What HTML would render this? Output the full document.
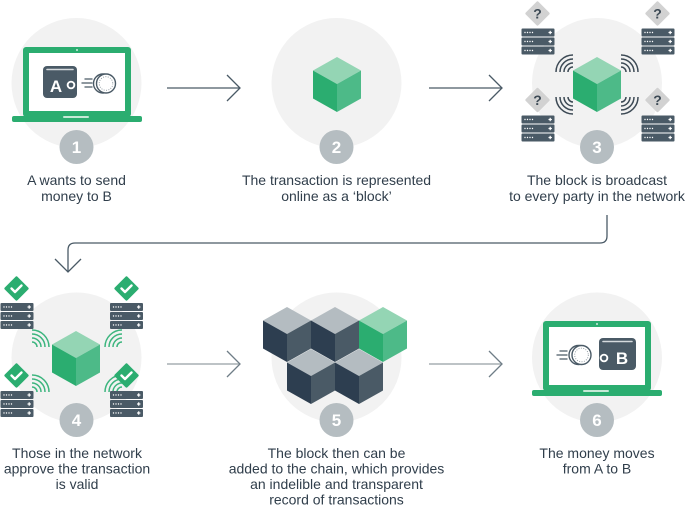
<!DOCTYPE html>
<html><head><meta charset="utf-8"><style>
html,body{margin:0;padding:0;background:#fff;}
svg{display:block;}
text{font-family:"Liberation Sans",Arial,sans-serif;}
.t{font-size:14px;fill:#303e4b;text-anchor:middle;}
.n{font-size:17px;font-weight:bold;fill:#fff;text-anchor:middle;}
</style></head><body>
<svg width="685" height="510" viewBox="0 0 685 510" xmlns="http://www.w3.org/2000/svg">
<defs>
  <g id="cg">
    <polygon points="0,0 24,13.5 0,27 -24,13.5" fill="#94d5b4"/>
    <polygon points="-24,13.5 0,27 0,55 -24,41.5" fill="#2bad70"/>
    <polygon points="0,27 24,13.5 24,41.5 0,55" fill="#4dba88"/>
  </g>
  <g id="cd">
    <polygon points="0,0 24,13.5 0,27 -24,13.5" fill="#b4bcc1"/>
    <polygon points="-24,13.5 0,27 0,55 -24,41.5" fill="#2d3e50"/>
    <polygon points="0,27 24,13.5 24,41.5 0,55" fill="#4a5a66"/>
  </g>
  <g id="row">
    <rect x="0" y="0" width="33" height="8" rx="1" fill="#4a5a66"/>
    <circle cx="3.5" cy="4" r="0.7" fill="#fff"/><circle cx="6" cy="4" r="0.7" fill="#fff"/>
    <circle cx="8.5" cy="4" r="0.7" fill="#fff"/><circle cx="11" cy="4" r="0.7" fill="#fff"/>
    <rect x="27" y="3.4" width="3.4" height="1.2" fill="#fff"/><rect x="28.1" y="2.3" width="1.2" height="3.4" fill="#fff"/>
  </g>
  <g id="srv">
    <use href="#row"/><use href="#row" y="9"/><use href="#row" y="18"/>
  </g>
  <g id="lap">
    <rect x="23" y="47" width="108" height="70" rx="3" fill="#2bad70"/>
    <rect x="29" y="53" width="96" height="58" fill="#fff"/>
    <circle cx="77" cy="50" r="0.9" fill="#fff"/>
    <rect x="12" y="116" width="130" height="6" rx="2" fill="#2bad70"/>
    <rect x="63" y="116" width="26" height="2" rx="1" fill="#c6e9d6"/>
  </g>
</defs>

<!-- background circles -->
<circle cx="76.5" cy="83" r="65" fill="#f2f2f2"/>
<circle cx="336.5" cy="83" r="65" fill="#f2f2f2"/>
<circle cx="597" cy="83" r="65" fill="#f2f2f2"/>
<circle cx="76.5" cy="357.5" r="65" fill="#f2f2f2"/>
<circle cx="336.5" cy="357.5" r="65" fill="#f2f2f2"/>
<circle cx="597" cy="357.5" r="65" fill="#f2f2f2"/>

<!-- arrows row 1 -->
<g fill="none" stroke="#4a5a66" stroke-width="1.3">
  <line x1="167" y1="88" x2="240" y2="88"/>
  <polyline points="227,75 240,88 227,101"/>
  <line x1="429" y1="88" x2="502" y2="88"/>
  <polyline points="489,75 502,88 489,101"/>
  <path d="M607,215 V236 Q607,243 600,243 H75 Q68,243 68,250 V272"/>
  <polyline points="55,259 68,272 81,259"/>
</g>
<!-- arrows row 2 -->
<g fill="none" stroke-width="1.6">
  <line x1="167" y1="364" x2="239" y2="364" stroke="#a7afb4"/>
  <polyline points="227,351 240,364 227,377" stroke="#6f7d87" stroke-width="1.3"/>
  <line x1="429" y1="364" x2="501" y2="364" stroke="#a7afb4"/>
  <polyline points="489,351 502,364 489,377" stroke="#6f7d87" stroke-width="1.3"/>
</g>

<!-- Step 1 laptop -->
<use href="#lap"/>
<rect x="43" y="66" width="34" height="32" rx="4" fill="#4a5a66"/>
<line x1="47" y1="69.5" x2="73" y2="69.5" stroke="#d5dadd" stroke-width="1.6" stroke-linecap="round"/>
<text x="56" y="92" style="font-size:17px;font-weight:bold;fill:#fff;text-anchor:middle">A</text>
<circle cx="71" cy="85" r="4.3" fill="#fff"/>
<circle cx="71" cy="85" r="2.4" fill="#4a5a66"/>
<g stroke="#4a5a66" stroke-width="1.3" stroke-linecap="round">
  <line x1="85" y1="79" x2="92" y2="79"/><line x1="82" y1="83" x2="92" y2="83"/><line x1="85" y1="87" x2="92" y2="87"/>
</g>
<circle cx="103" cy="83.5" r="9.5" fill="#fff" stroke="#4a5a66" stroke-width="1.4"/>
<circle cx="106" cy="83.5" r="9.5" fill="#fff" stroke="#4a5a66" stroke-width="1.4"/>
<circle cx="106" cy="83.5" r="6.8" fill="none" stroke="#8a959c" stroke-width="0.9" stroke-dasharray="1 1.4"/>

<!-- Step 2 cube -->
<use href="#cg" x="337" y="57"/>

<!-- Step 3 -->
<g fill="none" stroke="#3d4a55" stroke-width="1.5">
  <path d="M568,72 A5,5 0 0 1 573,67 M564,72 A9,9 0 0 1 573,63 M560,72 A13,13 0 0 1 573,59 M556,72 A17,17 0 0 1 573,55"/>
  <path d="M621,67 A5,5 0 0 1 626,72 M621,63 A9,9 0 0 1 630,72 M621,59 A13,13 0 0 1 634,72 M621,55 A17,17 0 0 1 638,72"/>
  <path d="M573,102 A5,5 0 0 1 568,97 M573,106 A9,9 0 0 1 564,97 M573,110 A13,13 0 0 1 560,97 M573,114 A17,17 0 0 1 556,97"/>
  <path d="M626,97 A5,5 0 0 1 621,102 M630,97 A9,9 0 0 1 621,106 M634,97 A13,13 0 0 1 621,110 M638,97 A17,17 0 0 1 621,114"/>
</g>
<use href="#cg" x="597" y="57"/>
<use href="#srv" x="521.5" y="28.5"/>
<use href="#srv" x="641.5" y="28.5"/>
<use href="#srv" x="521.5" y="115.5"/>
<use href="#srv" x="641.5" y="115.5"/>
<g fill="#d2d2d2">
  <rect x="-9" y="-9" width="18" height="18" rx="1.5" transform="translate(537.5,13.5) rotate(45)"/>
  <rect x="-9" y="-9" width="18" height="18" rx="1.5" transform="translate(657.5,13.5) rotate(45)"/>
  <rect x="-9" y="-9" width="18" height="18" rx="1.5" transform="translate(537.5,100) rotate(45)"/>
  <rect x="-9" y="-9" width="18" height="18" rx="1.5" transform="translate(657.5,100) rotate(45)"/>
</g>
<g style="font-size:14px;font-weight:bold;fill:#3d4a55;text-anchor:middle">
  <text x="537.5" y="18.5">?</text><text x="657.5" y="18.5">?</text>
  <text x="537.5" y="105">?</text><text x="657.5" y="105">?</text>
</g>

<!-- Step 4 -->
<g fill="none" stroke="#3cb57e" stroke-width="1.5">
  <path d="M32,342 A5,5 0 0 1 37,347 M32,338 A9,9 0 0 1 41,347 M32,334 A13,13 0 0 1 45,347 M32,330 A17,17 0 0 1 49,347"/>
  <path d="M117,347 A5,5 0 0 1 122,342 M113,347 A9,9 0 0 1 122,338 M109,347 A13,13 0 0 1 122,334 M105,347 A17,17 0 0 1 122,330"/>
  <path d="M32,387 A5,5 0 0 1 37,392 M32,383 A9,9 0 0 1 41,392 M32,379 A13,13 0 0 1 45,392 M32,375 A17,17 0 0 1 49,392"/>
  <path d="M117,392 A5,5 0 0 1 122,387 M113,392 A9,9 0 0 1 122,383 M109,392 A13,13 0 0 1 122,379 M105,392 A17,17 0 0 1 122,375"/>
</g>
<use href="#cg" x="76" y="331"/>
<use href="#srv" x="0.5" y="303"/>
<use href="#srv" x="110" y="303"/>
<use href="#srv" x="0.5" y="391"/>
<use href="#srv" x="110" y="391"/>
<g fill="#2bad70">
  <rect x="-9" y="-9" width="18" height="18" rx="1.5" transform="translate(16.5,288.5) rotate(45)"/>
  <rect x="-9" y="-9" width="18" height="18" rx="1.5" transform="translate(126.5,288.5) rotate(45)"/>
  <rect x="-9" y="-9" width="18" height="18" rx="1.5" transform="translate(16.5,375.5) rotate(45)"/>
  <rect x="-9" y="-9" width="18" height="18" rx="1.5" transform="translate(126.5,375.5) rotate(45)"/>
</g>
<g fill="none" stroke="#fff" stroke-width="2.4" stroke-linecap="round" stroke-linejoin="round">
  <polyline points="11.5,288.5 15,292 21.5,285.5"/>
  <polyline points="121.5,288.5 125,292 131.5,285.5"/>
  <polyline points="11.5,375.5 15,379 21.5,372.5"/>
  <polyline points="121.5,375.5 125,379 131.5,372.5"/>
</g>

<!-- Step 5 cubes -->
<use href="#cd" x="287" y="307"/>
<use href="#cd" x="335" y="307"/>
<use href="#cg" x="383" y="307"/>
<use href="#cd" x="311" y="349"/>
<use href="#cd" x="359" y="349"/>

<!-- Step 6 laptop -->
<use href="#lap" x="520" y="274"/>
<g stroke="#4a5a66" stroke-width="1.3" stroke-linecap="round">
  <line x1="560" y1="351" x2="567" y2="351"/><line x1="557" y1="355" x2="567" y2="355"/><line x1="560" y1="359" x2="567" y2="359"/>
</g>
<circle cx="578.5" cy="355" r="9.5" fill="#fff" stroke="#4a5a66" stroke-width="1.4"/>
<circle cx="581.5" cy="355" r="9.5" fill="#fff" stroke="#4a5a66" stroke-width="1.4"/>
<circle cx="581.5" cy="355" r="6.8" fill="none" stroke="#8a959c" stroke-width="0.9" stroke-dasharray="1 1.4"/>
<rect x="599" y="338" width="37" height="32" rx="4" fill="#4a5a66"/>
<line x1="603" y1="341.5" x2="632" y2="341.5" stroke="#d5dadd" stroke-width="1.6" stroke-linecap="round"/>
<circle cx="604" cy="358" r="4.3" fill="#fff"/>
<circle cx="604" cy="358" r="2.4" fill="#4a5a66"/>
<text x="622" y="364" style="font-size:17px;font-weight:bold;fill:#fff;text-anchor:middle">B</text>

<!-- badges -->
<g fill="#b5bdc1">
  <circle cx="76.5" cy="147" r="17"/><circle cx="336.5" cy="147" r="17"/><circle cx="597" cy="147" r="17"/>
  <circle cx="76.5" cy="420" r="17"/><circle cx="336.5" cy="420" r="17"/><circle cx="597" cy="420" r="17"/>
</g>
<text class="n" x="76.5" y="153">1</text>
<text class="n" x="336.5" y="153">2</text>
<text class="n" x="597" y="153">3</text>
<text class="n" x="76.5" y="426">4</text>
<text class="n" x="336.5" y="426">5</text>
<text class="n" x="597" y="426">6</text>

<!-- labels -->
<text class="t" x="76.5" y="185">A wants to send</text>
<text class="t" x="76.5" y="201">money to B</text>
<text class="t" x="336.5" y="185">The transaction is represented</text>
<text class="t" x="336.5" y="201">online as a ‘block’</text>
<text class="t" x="597" y="185">The block is broadcast</text>
<text class="t" x="597" y="201">to every party in the network</text>

<text class="t" x="77" y="458">Those in the network</text>
<text class="t" x="77" y="473.5">approve the transaction</text>
<text class="t" x="77" y="489">is valid</text>
<text class="t" x="336.5" y="458">The block then can be</text>
<text class="t" x="336.5" y="473.5">added to the chain, which provides</text>
<text class="t" x="336.5" y="489">an indelible and transparent</text>
<text class="t" x="336.5" y="504.5">record of transactions</text>
<text class="t" x="597" y="458">The money moves</text>
<text class="t" x="597" y="473.5">from A to B</text>
</svg>
</body></html>
